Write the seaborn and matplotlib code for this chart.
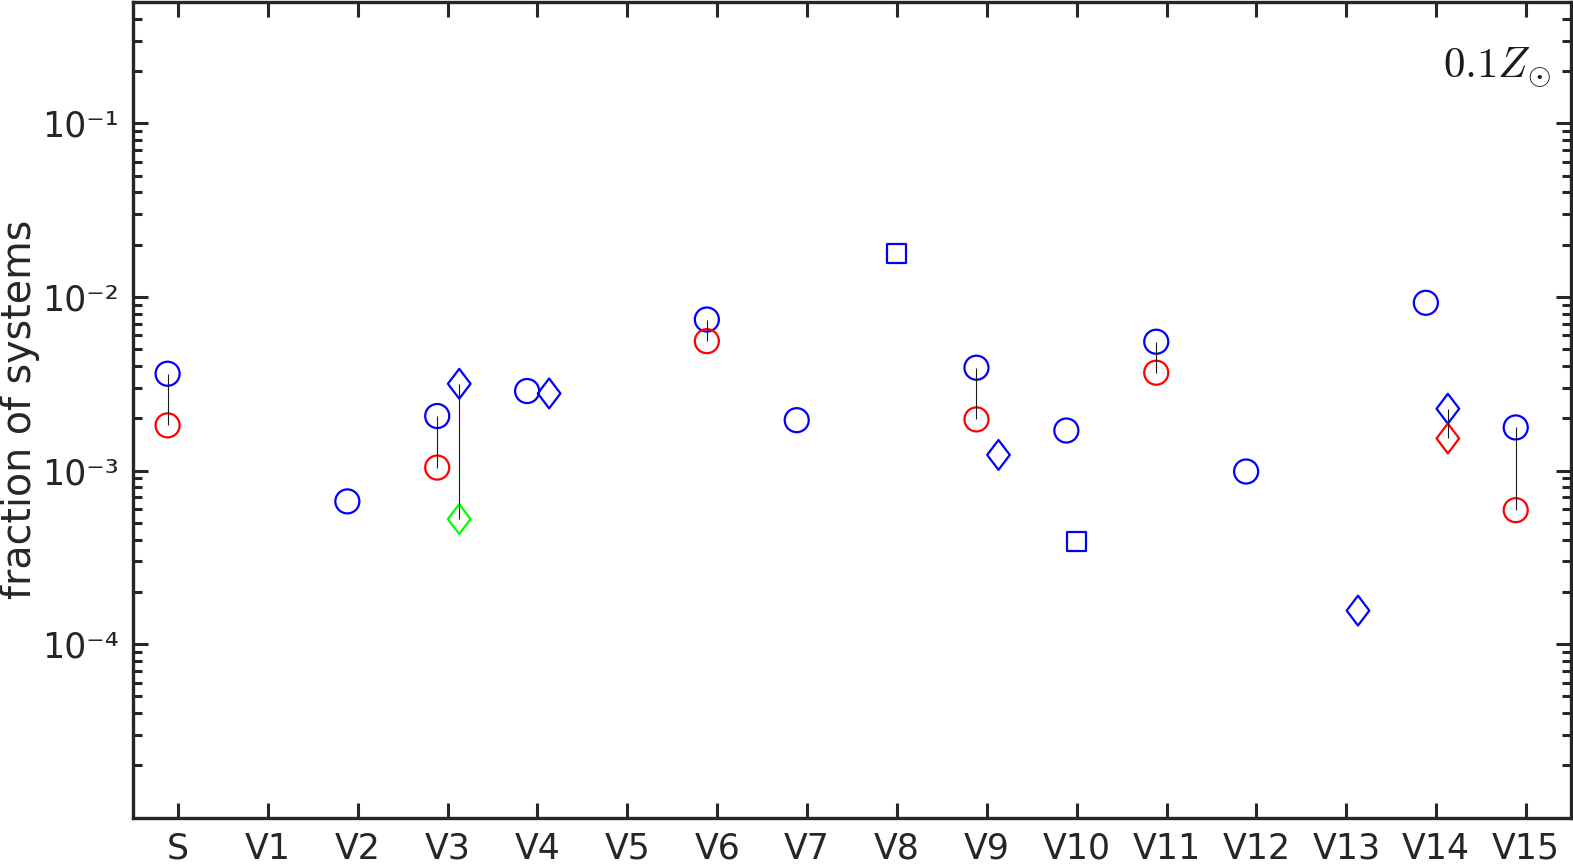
import numpy as np
import pandas as pd
import matplotlib
matplotlib.use("Agg")
import matplotlib.pyplot as plt
from matplotlib.path import Path
import seaborn as sns

nan = np.nan

categories = ["S", "V1", "V2", "V3", "V4", "V5", "V6", "V7", "V8", "V9",
              "V10", "V11", "V12", "V13", "V14", "V15"]

circle_blue = [3.61e-3, nan, 6.64e-4, 2.06e-3, 2.87e-3, nan, 7.41e-3, 1.95e-3,
               nan, 3.91e-3, 1.70e-3, 5.52e-3, 9.87e-4, nan, 9.25e-3, 1.77e-3]
circle_red = [1.82e-3, nan, nan, 1.04e-3, nan, nan, 5.56e-3, nan,
              nan, 1.97e-3, nan, 3.66e-3, nan, nan, nan, 5.91e-4]
diamond_blue = [nan, nan, nan, 3.16e-3, 2.78e-3, nan, nan, nan,
                nan, 1.23e-3, nan, nan, nan, 1.56e-4, 2.27e-3, nan]
diamond_green = [nan, nan, nan, 5.25e-4, nan, nan, nan, nan,
                 nan, nan, nan, nan, nan, nan, nan, nan]
diamond_red = [nan, nan, nan, nan, nan, nan, nan, nan,
               nan, nan, nan, nan, nan, nan, 1.53e-3, nan]
square_blue = [nan, nan, nan, nan, nan, nan, nan, nan,
               1.77e-2, nan, 3.91e-4, nan, nan, nan, nan, nan]

annotation = r"$0.1Z_{\odot}$"
ylabel = "fraction of systems"
ytick_vals = [1e-4, 1e-3, 1e-2, 1e-1]
ytick_labels = ["10\u207b\u2074", "10\u207b\u00b3", "10\u207b\u00b2", "10\u207b\u00b9"]

sns.set_theme(style="ticks")
plt.rcParams["font.family"] = ["DejaVu Sans"]

dark = "#262626"
fig = plt.figure(figsize=(15.73, 8.64), dpi=100)
ax = fig.add_axes([133 / 1573, (864 - 817.7) / 864, (1571 - 133) / 1573, (817.7 - 2) / 864])

diamond = Path([(0, 1), (0.76, 0), (0, -1), (-0.76, 0), (0, 1)],
               [Path.MOVETO, Path.LINETO, Path.LINETO, Path.LINETO, Path.CLOSEPOLY])

idx = np.arange(len(categories))
off_c, off_d, off_s = -0.115, 0.13, 0.0

def draw(vals, off, marker, size, color):
    df = pd.DataFrame({"x": idx + off, "y": vals}).dropna()
    sns.scatterplot(data=df, x="x", y="y", ax=ax, marker=marker, s=size ** 2,
                    color=color, edgecolor=color, facecolor="none",
                    linewidth=1.6, zorder=1, legend=False)

draw(circle_blue, off_c, "o", 17.3, "#0000ff")
draw(circle_red, off_c, "o", 17.3, "#ff0000")
draw(diamond_blue, off_d, diamond, 21.5, "#0000ff")
draw(diamond_green, off_d, diamond, 21.5, "#00ff00")
draw(diamond_red, off_d, diamond, 21.5, "#ff0000")
draw(square_blue, off_s, "s", 13.7, "#0000ff")

# connecting lines between paired values
cb, cr = np.array(circle_blue), np.array(circle_red)
m = ~np.isnan(cb) & ~np.isnan(cr)
ax.vlines(idx[m] + off_c, cr[m], cb[m], color="k", lw=0.8, zorder=3)
db = np.array(diamond_blue)
dl = np.where(np.isnan(np.array(diamond_green)), np.array(diamond_red), np.array(diamond_green))
m2 = ~np.isnan(db) & ~np.isnan(dl)
ax.vlines(idx[m2] + off_d, dl[m2], db[m2], color="k", lw=0.8, zorder=3)

ax.set_yscale("log")
ax.set_ylim(1e-5, 0.5)
ax.set_xlim(-0.5, 15.5)
ax.set_xticks(idx)
ax.set_xticklabels(categories)
ax.set_yticks(ytick_vals)
ax.set_yticklabels(ytick_labels)
ax.yaxis.set_minor_locator(matplotlib.ticker.LogLocator(base=10, subs=np.arange(2, 10)))
ax.yaxis.set_minor_formatter(matplotlib.ticker.NullFormatter())
ax.set_xlabel("")
ax.set_ylabel(ylabel, fontsize=28.5, color=dark, va="center")
ax.yaxis.set_label_coords(-0.0786, 0.5)

ax.tick_params(which="both", direction="in", top=True, right=True, color=dark,
               width=2.2, labelsize=25, labelcolor=dark)
ax.tick_params(which="major", length=11, pad=10)
ax.tick_params(which="minor", length=6.5)
ax.tick_params(axis="x", which="both", top=True, bottom=True)
for sp in ax.spines.values():
    sp.set_visible(True)
    sp.set_linewidth(2.4)
    sp.set_color(dark)

ax.text(0.986, 0.907, annotation, transform=ax.transAxes, ha="right", va="baseline",
        fontsize=31, color="k", math_fontfamily="cm")

fig.savefig("out.png", dpi=100, facecolor="white")
